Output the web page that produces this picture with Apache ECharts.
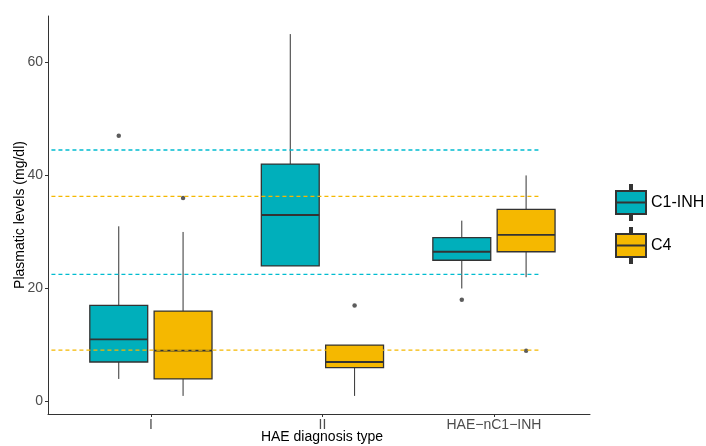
<!DOCTYPE html>
<html>
<head>
<meta charset="utf-8">
<script src="https://cdn.jsdelivr.net/npm/echarts@6/dist/echarts.min.js"></script>
<style>
html, body { margin: 0; padding: 0; background: #fff; }
#chart { width: 706px; height: 446px; }
</style>
</head>
<body>
<div id="chart"></div>
<script>
const categories = ['I', 'II', 'HAE\u2212nC1\u2212INH'];
const yTicks = [0, 20, 40, 60];

// [min, Q1, median, Q3, max] per category
const c1inhBoxes = [[4, 7, 11, 17, 31], [24, 24, 33, 42, 65], [20, 25, 26.5, 29, 32]];
const c4Boxes = [[1, 4, 9, 16, 30], [1, 6, 7, 10, 10], [22, 26.5, 29.5, 34, 40]];

// [category index, value]
const c1inhOutliers = [[0, 47], [2, 18]];
const c4Outliers = [[0, 36], [1, 17], [2, 9]];

// reference range limits (dashed)
const c1inhRef = [22.5, 44.5];
const c4Ref = [9.1, 36.3];
const refSpan = [0.42, 3.26];

const teal = '#00AFBB';
const yellow = '#F5B800';
const dodge = 0.1875;
const boxWidth = 0.3375;
const font = 'Liberation Sans, Arial, sans-serif';

const legendIcon = 'path://M14,0L16,0L16,6L14,6Z M0,6L30,6L30,17.5L0,17.5Z M0,17.5L30,17.5L30,29L0,29Z M14,29L16,29L16,35L14,35Z';

function boxData(stats, shift) {
				return stats.map((s, i) => [i + 1 + shift].concat(s));
}
function pointData(list, shift) {
				return list.map(p => [p[0] + 1 + shift, p[1]]);
}
function refData(levels) {
				// two segments separated by a gap
				const out = [];
				levels.forEach((v, i) => {
								if (i > 0) out.push([null, null]);
								out.push([refSpan[0], v], [refSpan[1], v]);
				});
				return out;
}

function renderBox(params, api) {
				const x = api.value(0);
				const w = api.size([boxWidth, 0])[0];
				const p = [1, 2, 3, 4, 5].map(k => api.coord([x, api.value(k)]));
				const cx = p[0][0];
				const dark = '#333333';
				return {
								type: 'group',
								children: [
												{type: 'line', shape: {x1: cx, y1: p[0][1], x2: cx, y2: p[1][1]}, style: {stroke: dark, lineWidth: 1}},
												{type: 'line', shape: {x1: cx, y1: p[3][1], x2: cx, y2: p[4][1]}, style: {stroke: dark, lineWidth: 1}},
												{type: 'rect', shape: {x: cx - w / 2, y: p[3][1], width: w, height: p[1][1] - p[3][1]},
																style: {fill: api.visual('color'), stroke: dark, lineWidth: 1.3}},
												{type: 'line', shape: {x1: cx - w / 2, y1: p[2][1], x2: cx + w / 2, y2: p[2][1]}, style: {stroke: dark, lineWidth: 1.8}}
								]
				};
}

const chart = echarts.init(document.getElementById('chart'));
chart.setOption({
				animation: false,
				textStyle: {fontFamily: font},
				grid: {left: 48, top: 16, width: 542, height: 398, containLabel: false, outerBoundsMode: 'none'},
				legend: {
								orient: 'vertical',
								left: 615,
								top: 184,
								padding: 0,
								itemWidth: 30,
								itemHeight: 36,
								itemGap: 6,
								itemTextGap: 8,
								textStyle: {fontSize: 16, color: '#000', fontFamily: font},
								data: [
												{name: 'C1-INH', icon: legendIcon, itemStyle: {color: teal, borderColor: '#333', borderWidth: 2}},
												{name: 'C4', icon: legendIcon, itemStyle: {color: yellow, borderColor: '#333', borderWidth: 2}}
								]
				},
				xAxis: {
								type: 'value',
								min: 0.4,
								max: 3.56,
								name: 'HAE diagnosis type',
								nameLocation: 'middle',
								nameGap: 16,
								nameMoveOverlap: false,
								nameTextStyle: {fontSize: 14, color: '#000', padding: [0, 0, 0, 6]},
								splitLine: {show: false},
								axisLine: {onZero: false, lineStyle: {color: '#333', width: 1}},
								axisTick: {length: 3, lineStyle: {color: '#333'}, customValues: [1, 2, 3]},
								axisLabel: {
												margin: 4,
												fontSize: 14,
												color: '#4D4D4D',
												customValues: [1, 2, 3],
												formatter: v => categories[Math.round(v) - 1]
								}
				},
				yAxis: {
								type: 'value',
								min: -2.2,
								max: 68.2,
								name: 'Plasmatic levels (mg/dl)',
								nameLocation: 'middle',
								nameRotate: 90,
								nameGap: 21,
								nameMoveOverlap: false,
								nameTextStyle: {fontSize: 14, color: '#000'},
								splitLine: {show: false},
								axisLine: {show: true, onZero: false, lineStyle: {color: '#333', width: 1}},
								axisTick: {show: true, length: 3, lineStyle: {color: '#333'}, customValues: yTicks},
								axisLabel: {margin: 5, fontSize: 14, color: '#4D4D4D', customValues: yTicks}
				},
				series: [
								{
												name: 'C1-INH', type: 'custom', itemStyle: {color: teal},
												renderItem: renderBox, encode: {x: 0, y: [1, 2, 3, 4, 5]},
												data: boxData(c1inhBoxes, -dodge)
								},
								{
												name: 'C4', type: 'custom', itemStyle: {color: yellow},
												renderItem: renderBox, encode: {x: 0, y: [1, 2, 3, 4, 5]},
												data: boxData(c4Boxes, dodge)
								},
								{
												name: 'C1-INH outliers', type: 'scatter', symbolSize: 4.5,
												itemStyle: {color: '#333'}, data: pointData(c1inhOutliers, -dodge)
								},
								{
												name: 'C4 outliers', type: 'scatter', symbolSize: 4.5,
												itemStyle: {color: '#333'}, data: pointData(c4Outliers, dodge)
								},
								{
												name: 'C1-INH range', type: 'line', symbol: 'none', connectNulls: false, z: 5,
												lineStyle: {color: '#00BCD0', width: 1.3, type: [4, 3]},
												data: refData(c1inhRef)
								},
								{
												name: 'C4 range', type: 'line', symbol: 'none', connectNulls: false, z: 5,
												lineStyle: {color: '#F5B800', width: 1.3, type: [4, 3]},
												data: refData(c4Ref)
								}
				]
});
</script>
</body>
</html>
